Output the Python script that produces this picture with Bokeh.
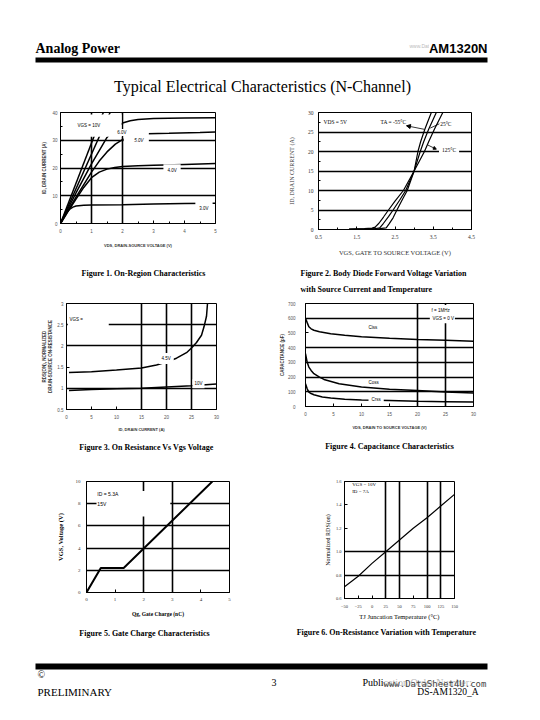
from bokeh.plotting import figure
from bokeh.layouts import column, row
from bokeh.models import (Range1d, Label, BoxAnnotation, FixedTicker, Arrow,
                          NormalHead, NumeralTickFormatter)
from bokeh.embed import file_html
from bokeh.resources import INLINE

SERIF = "Liberation Serif"
SANS = "Liberation Sans"

# ---------------- Figure 1 : On-Region Characteristics ----------------
f1_x_ticks = [0, 1, 2, 3, 4, 5]
f1_x_minor = [0.5, 1.5, 2.5, 3.5, 4.5]
f1_y_ticks = [0, 10, 20, 30, 40]
f1_y_minor = [5, 15, 25, 35]
f1_vds_10v = [0, 1.38]
f1_id_10v = [0, 40]
f1_vds_b = [0, 1.6]
f1_id_b = [0, 40]
f1_vds_6v = [0, 0.5, 1.0, 1.5, 1.75, 2.0, 2.25, 2.5, 3, 4, 5]
f1_id_6v = [0, 11, 21.5, 31, 34.2, 36.2, 37.0, 37.5, 37.8, 38.0, 38.1]
f1_vds_5v = [0, 0.5, 1.0, 1.25, 1.5, 1.77, 2.0, 2.4, 2.8, 3.5, 4.5, 5]
f1_id_5v = [0, 9.5, 18.5, 22.5, 25.8, 28.6, 30.2, 31.6, 32.3, 32.5, 32.8, 33.0]
f1_vds_4v = [0, 0.25, 0.5, 0.75, 1.0, 1.25, 1.5, 1.75, 2.0, 2.5, 3, 4, 5]
f1_id_4v = [0, 4.5, 8.8, 13.0, 16.5, 18.5, 19.6, 20.2, 20.5, 20.8, 21.0, 21.3, 21.6]
f1_vds_3v = [0, 0.1, 0.2, 0.3, 0.4, 0.5, 0.75, 1, 2, 3, 4, 5]
f1_id_3v = [0, 2.2, 4.0, 5.2, 5.9, 6.3, 6.6, 6.7, 6.8, 7.0, 7.2, 7.3]

# ---------------- Figure 2 : Transfer characteristics ----------------
f2_x_ticks = [0.5, 1.5, 2.5, 3.5, 4.5]
f2_x_minor = [1, 2, 3, 4]
f2_y_ticks = [0, 5, 10, 15, 20, 25, 30]
f2_y_minor = [2.5, 7.5, 12.5, 17.5, 22.5, 27.5]
f2_vgs_m55 = [1.3, 1.8, 2.1, 2.27, 2.35, 2.45, 2.55, 2.7, 2.82, 3.0, 3.1, 3.17, 3.28, 3.45]
f2_id_m55 = [0.05, 0.1, 0.2, 0.4, 1.5, 3.0, 5, 7.8, 10, 15, 20, 22.5, 25.7, 30]
f2_vgs_25 = [1.3, 1.8, 2.0, 2.1, 2.2, 2.33, 2.45, 2.62, 2.78, 3.0, 3.16, 3.25, 3.38, 3.58]
f2_id_25 = [0.05, 0.15, 0.25, 0.4, 1.6, 3.3, 5, 7.5, 10, 15, 20, 22.5, 25.7, 30]
f2_vgs_125 = [1.3, 1.7, 1.9, 1.98, 2.08, 2.2, 2.33, 2.5, 2.72, 3.0, 3.27, 3.38, 3.53, 3.75]
f2_id_125 = [0.1, 0.2, 0.35, 0.6, 1.6, 3.2, 5, 7.3, 10, 15, 20, 22.5, 25.7, 30]

# ---------------- Figure 3 : On resistance vs drain current ----------------
f3_x_ticks = [0, 5, 10, 15, 20, 25, 30]
f3_y_ticks = [0.5, 1, 1.5, 2, 2.5, 3]
f3_id_45v = [0.5, 5, 10, 15, 18, 20, 22, 24, 25, 26, 27, 27.5, 28, 28.2]
f3_r_45v = [1.37, 1.39, 1.43, 1.48, 1.55, 1.62, 1.71, 1.84, 1.95, 2.08, 2.25, 2.45, 2.7, 3.0]
f3_id_10v = [0.5, 5, 10, 15, 20, 25, 30]
f3_r_10v = [0.95, 0.97, 0.99, 1.0, 1.03, 1.06, 1.1]

# ---------------- Figure 4 : Capacitance ----------------
f4_x_ticks = [0, 5, 10, 15, 20, 25, 30]
f4_y_ticks = [0, 100, 200, 300, 400, 500, 600, 700]
f4_vds_ciss = [0, 0.3, 0.6, 1, 1.5, 2.5, 4.5, 7, 10, 15, 20, 25, 30]
f4_ciss = [600, 570, 542, 528, 518, 508, 495, 485, 474, 464, 456, 450, 443]
f4_vds_coss = [0, 0.3, 0.6, 1, 1.5, 2.5, 3.3, 6, 10, 15, 20, 25, 30]
f4_coss = [360, 300, 268, 245, 223, 200, 184, 155, 132, 118, 108, 98, 91]
f4_vds_crss = [0, 0.3, 0.6, 1, 1.5, 3, 4.5, 7, 10, 15, 20, 25, 30]
f4_crss = [155, 120, 98, 88, 80, 65, 57, 50, 45, 40, 35, 33, 30]

# ---------------- Figure 5 : Gate charge ----------------
f5_x_ticks = [0, 1, 2, 3, 4, 5]
f5_y_ticks = [0, 2, 4, 6, 8, 10]
f5_qg = [0, 0.5, 1.3, 4.4]
f5_vgs = [0, 2.2, 2.2, 10]

# ---------------- Figure 6 : On resistance vs temperature ----------------
f6_x_ticks = [-50, -25, 0, 25, 50, 75, 100, 125, 150]
f6_y_ticks = [0.6, 0.8, 1.0, 1.2, 1.4, 1.6]
f6_tj = [-50, -25, 0, 25, 50, 75, 100, 125, 150]
f6_rds = [0.70, 0.79, 0.90, 1.00, 1.10, 1.20, 1.29, 1.39, 1.49]


def make_chart(xr, yr, fw, fh, bl, br, bt, bb):
    p = figure(x_range=Range1d(*xr), y_range=Range1d(*yr), frame_width=fw, frame_height=fh,
               min_border_left=bl, min_border_right=br, min_border_top=bt, min_border_bottom=bb,
               toolbar_location=None, output_backend="svg")
    p.background_fill_color = "white"
    p.border_fill_color = "white"
    p.outline_line_color = "black"
    p.outline_line_width = 1
    p.outline_line_alpha = 1
    p.grid.grid_line_color = "black"
    p.grid.grid_line_width = 1.6
    for ax in p.axis:
        ax.axis_line_color = "black"
        ax.axis_line_width = 1
        ax.major_tick_in = 3
        ax.major_tick_out = 0
        ax.minor_tick_in = 2
        ax.minor_tick_out = 0
        ax.major_tick_line_color = "black"
        ax.minor_tick_line_color = "black"
    return p


def fmt_axis(ax, ticks, minor, tfont, tsize, tcolor, tstand,
             label, lfont, lsize, lstyle, lcolor, lstand):
    ax.ticker = FixedTicker(ticks=ticks, minor_ticks=minor)
    ax.major_label_text_font = tfont
    ax.major_label_text_font_size = tsize
    ax.major_label_text_color = tcolor
    ax.major_label_standoff = tstand
    ax.axis_label = label
    ax.axis_label_text_font = lfont
    ax.axis_label_text_font_size = lsize
    ax.axis_label_text_font_style = lstyle
    ax.axis_label_text_color = lcolor
    ax.axis_label_standoff = lstand


def lab(p, x, y, text, font, size, style="normal", bg=False, pad=2, align="left", color="black"):
    kw = dict(x=x, y=y, text=text, text_font=font, text_font_size=size,
              text_font_style=style, text_align=align, text_baseline="middle",
              text_color=color)
    if bg:
        kw.update(background_fill_color="white", background_fill_alpha=1.0, padding=pad)
    p.add_layout(Label(**kw))


def mask(p, l, r, b, t):
    p.add_layout(BoxAnnotation(left=l, right=r, bottom=b, top=t, fill_color="white",
                               fill_alpha=1.0, line_color=None))


def text_fig(w, h):
    p = figure(width=w, height=h, x_range=Range1d(0, w), y_range=Range1d(h, 0),
               toolbar_location=None, output_backend="svg", min_border=0,
               x_axis_type=None, y_axis_type=None)
    p.outline_line_color = None
    p.background_fill_color = "white"
    p.border_fill_color = "white"
    return p


def tlab(p, x, y, text, font, size, style="normal", align="left", color="black", **extra):
    p.add_layout(Label(x=x, y=y, text=text, text_font=font, text_font_size=size,
                       text_font_style=style, text_align=align,
                       text_baseline="alphabetic", text_color=color, **extra))


TICK_GRAY = "#555555"

# ================= Header =================
header = text_fig(524, 90)
tlab(header, 401, 37.5, "www.DataSheet4U.com", SANS, "5px", color="#bbbbbb")
tlab(header, 27, 39.5, "Analog Power", SERIF, "14px", "bold")
tlab(header, 479, 40, "AM1320N", SANS, "13px", "bold", align="right",
     background_fill_color="white", background_fill_alpha=1.0)
header.add_layout(BoxAnnotation(left=27, right=479, top=49, bottom=54, fill_color="black",
                                fill_alpha=1.0, line_color=None))
tlab(header, 254, 78, "Typical Electrical Characteristics (N-Channel)", SERIF, "16px",
     align="center")

# ================= Figure 1 =================
f1 = make_chart((0, 5), (0, 40), 155, 111, 52, 55, 14, 27)
fmt_axis(f1.xaxis[0], f1_x_ticks, f1_x_minor, SANS, "4.5px", TICK_GRAY, 5,
         "VDS, DRAIN-SOURCE VOLTAGE (V)", SANS, "4px", "bold", "#333333", 7)
fmt_axis(f1.yaxis[0], f1_y_ticks, f1_y_minor, SANS, "4.5px", TICK_GRAY, 3,
         "ID, DRAIN CURRENT (A)", SANS, "4.5px", "bold", "#333333", 2)
f1.xgrid[0].ticker = FixedTicker(ticks=[1, 2])
f1.ygrid[0].ticker = FixedTicker(ticks=[10, 20, 30])
for xs, ys in [(f1_vds_10v, f1_id_10v), (f1_vds_b, f1_id_b), (f1_vds_6v, f1_id_6v),
               (f1_vds_5v, f1_id_5v), (f1_vds_4v, f1_id_4v), (f1_vds_3v, f1_id_3v)]:
    f1.line(xs, ys, line_color="black", line_width=1.5)
mask(f1, 0.35, 1.97, 31.3, 39.3)
mask(f1, 2.04, 2.85, 29.2, 35.6)
lab(f1, 0.55, 35.3, "VGS = 10V", SANS, "4.5px")
lab(f1, 1.8, 32.8, "6.0V", SANS, "4.5px", bg=True, pad=1)
lab(f1, 2.38, 30.0, "5.0V", SANS, "4.5px", "italic")
lab(f1, 3.32, 19.0, "4.0V", SANS, "4.5px", bg=True, pad=4)
lab(f1, 4.35, 5.5, "3.0V", SANS, "4.5px", bg=True, pad=4)

# ================= Figure 2 =================
f2 = make_chart((0.5, 4.5), (0, 30), 153, 117, 48, 61, 14, 31)
fmt_axis(f2.xaxis[0], f2_x_ticks, f2_x_minor, SERIF, "5.5px", "#333333", 5,
         "VGS, GATE TO SOURCE VOLTAGE (V)", SERIF, "6.5px", "normal", "#333333", 7)
fmt_axis(f2.yaxis[0], f2_y_ticks, f2_y_minor, SERIF, "5.5px", "#333333", 5,
         "ID, DRAIN CURRENT (A)", SERIF, "6px", "normal", "#333333", 10)
f2.xgrid[0].visible = False
f2.ygrid[0].ticker = FixedTicker(ticks=[5, 10, 15, 20, 25])
for xs, ys in [(f2_vgs_m55, f2_id_m55), (f2_vgs_25, f2_id_25), (f2_vgs_125, f2_id_125)]:
    f2.line(xs, ys, line_color="black", line_width=1.2)
lab(f2, 0.63, 27.6, "VDS = 5V", SERIF, "5.5px")
lab(f2, 2.12, 27.6, "TA = -55°C", SERIF, "5.5px")
lab(f2, 3.68, 27.1, "25°C", SERIF, "5.5px")
lab(f2, 3.65, 20.3, "125°C", SERIF, "5.5px", bg=True, pad=3)
f2.add_layout(Arrow(end=NormalHead(size=4, fill_color="black", line_color="black"),
                    x_start=3.26, y_start=25.7, x_end=2.80, y_end=26.6,
                    line_color="black", line_width=0.8))
f2.add_layout(Arrow(end=None, x_start=3.42, y_start=26.0, x_end=3.66, y_end=27.1,
                    line_color="black", line_width=0.8))
f2.add_layout(Arrow(end=NormalHead(size=3, fill_color="black", line_color="black"),
                    x_start=3.35, y_start=21.7, x_end=3.58, y_end=20.6,
                    line_color="black", line_width=0.8))

cap_row1 = text_fig(524, 35)
tlab(cap_row1, 135, 12.5, "Figure 1. On-Region Characteristics", SERIF, "8px", "bold",
     align="center")
tlab(cap_row1, 292, 12.5, "Figure 2. Body Diode Forward Voltage Variation", SERIF, "8px", "bold")
tlab(cap_row1, 292, 28.5, "with Source Current and Temperature", SERIF, "8px", "bold")

# ================= Figure 3 =================
f3 = make_chart((0, 30), (0.5, 3), 150, 106, 58, 54, 7, 27)
fmt_axis(f3.xaxis[0], f3_x_ticks, [], SANS, "4.5px", TICK_GRAY, 5,
         "ID, DRAIN CURRENT (A)", SANS, "4px", "bold", "#333333", 5)
fmt_axis(f3.yaxis[0], f3_y_ticks, [], SANS, "4.5px", TICK_GRAY, 3,
         "RDS(ON), NORMALIZED\nDRAIN-SOURCE ON-RESISTANCE", SANS, "4.5px", "bold",
         "#333333", 1)
f3.yaxis[0].formatter = NumeralTickFormatter(format="0.[0]")
f3.xgrid[0].ticker = FixedTicker(ticks=[15, 20, 25])
f3.ygrid[0].ticker = FixedTicker(ticks=[1, 2, 2.5])
f3.line(f3_id_45v, f3_r_45v, line_color="black", line_width=1.5)
f3.line(f3_id_10v, f3_r_10v, line_color="black", line_width=1.5)
mask(f3, 0.25, 8.45, 2.44, 2.56)
lab(f3, 0.6, 2.63, "VGS =", SANS, "4.5px")
lab(f3, 18.4, 1.70, "4.5V", SANS, "4.5px", bg=True, pad=3)
lab(f3, 25.2, 1.11, "10V", SANS, "4.5px", bg=True, pad=2)

# ================= Figure 4 =================
f4 = make_chart((0, 30), (0, 700), 168, 103, 35, 59, 8, 29)
fmt_axis(f4.xaxis[0], f4_x_ticks, [], SANS, "4.5px", TICK_GRAY, 5,
         "VDS, DRAIN TO SOURCE VOLTAGE (V)", SANS, "4px", "bold", "#333333", 6)
fmt_axis(f4.yaxis[0], f4_y_ticks, [], SANS, "4.5px", TICK_GRAY, 10,
         "CAPACITANCE (pF)", SANS, "4.5px", "bold", "#333333", 0)
f4.xgrid[0].ticker = FixedTicker(ticks=[20, 25])
f4.ygrid[0].ticker = FixedTicker(ticks=[100, 200, 300, 400, 600])
f4.line(f4_vds_ciss, f4_ciss, line_color="black", line_width=1.5)
f4.line(f4_vds_coss, f4_coss, line_color="black", line_width=1.5)
f4.line(f4_vds_crss, f4_crss, line_color="black", line_width=1.5)
mask(f4, 22.2, 26.0, 565, 690)
lab(f4, 11.25, 537, "Ciss", SANS, "4.5px")
lab(f4, 11.25, 163, "Coss", SANS, "4.5px")
lab(f4, 11.25, 48, "Crss", SANS, "4.5px", bg=True, pad=3)
lab(f4, 22.5, 653, "f = 1MHz", SANS, "4.5px")
lab(f4, 22.5, 598, "VGS = 0 V", SANS, "4.5px", bg=True, pad=1)

cap_row2 = text_fig(524, 35)
tlab(cap_row2, 138, 12, "Figure 3. On Resistance Vs Vgs Voltage", SERIF, "8px", "bold",
     align="center")
tlab(cap_row2, 381, 11, "Figure 4. Capacitance Characteristics", SERIF, "8px", "bold",
     align="center")

# ================= Figure 5 =================
f5 = make_chart((0, 5), (0, 10), 143, 111, 78, 41, 11, 28)
fmt_axis(f5.xaxis[0], f5_x_ticks, [], SERIF, "5px", "#333333", 5,
         "Qg, Gate Charge (nC)", SERIF, "5.5px", "bold", "black", 7)
fmt_axis(f5.yaxis[0], f5_y_ticks, [], SERIF, "5px", "#333333", 6,
         "VGS, Voltage (V)", SERIF, "6.5px", "bold", "black", 9)
f5.xgrid[0].ticker = FixedTicker(ticks=[2, 3])
f5.ygrid[0].ticker = FixedTicker(ticks=[2, 4, 6, 8])
f5.line(f5_qg, f5_vgs, line_color="black", line_width=2)
mask(f5, 0.35, 2.93, 6.85, 9.15)
lab(f5, 0.38, 8.83, "ID = 5.3A", SANS, "5px")
lab(f5, 0.38, 8.0, "15V", SANS, "5px")

# ================= Figure 6 =================
f6 = make_chart((-50, 150), (0.6, 1.6), 110, 117, 74, 78, 11, 25)
fmt_axis(f6.xaxis[0], f6_x_ticks, [], SERIF, "4.5px", "#333333", 6,
         "TJ Juncation Temperature (°C)", SERIF, "6.5px", "normal", "black", 2)
fmt_axis(f6.yaxis[0], f6_y_ticks, [], SERIF, "4.5px", "#333333", 3,
         "Normalized RDS(on)", SERIF, "6px", "normal", "black", 2)
f6.yaxis[0].formatter = NumeralTickFormatter(format="0.0")
f6.xgrid[0].ticker = FixedTicker(ticks=[25, 50, 100, 125])
f6.ygrid[0].ticker = FixedTicker(ticks=[0.8, 1.0])
f6.line(f6_tj, f6_rds, line_color="black", line_width=1.2)
lab(f6, -36, 1.574, "VGS = 10V", SERIF, "5px")
lab(f6, -36, 1.514, "ID = 7A", SERIF, "5px")

cap_row3 = text_fig(524, 37)
tlab(cap_row3, 136, 10, "Figure 5. Gate Charge Characteristics", SERIF, "8px", "bold",
     align="center")
tlab(cap_row3, 378, 9, "Figure 6. On-Resistance Variation with Temperature", SERIF, "8px",
     "bold", align="center")

# ================= Footer =================
footer = text_fig(524, 52)
footer.add_layout(BoxAnnotation(left=27, right=479, top=3, bottom=9, fill_color="black",
                                fill_alpha=1.0, line_color=None))
tlab(footer, 29, 14, "©", SERIF, "10px")
tlab(footer, 29, 31, "PRELIMINARY", SERIF, "11px")
tlab(footer, 263, 22, "3", SERIF, "10px")
tlab(footer, 354, 22, "Publication Order Number:", SERIF, "10px")
tlab(footer, 375, 23, "www.DataSheet4U.com", "DejaVu Sans Mono", "9px", color="#444444",
     background_fill_color="white", background_fill_alpha=0.7)
tlab(footer, 470, 31.5, "DS-AM1320_A", SERIF, "9.5px", align="right")

page = column(
    header,
    row(f1, f2),
    cap_row1,
    row(f3, f4),
    cap_row2,
    row(f5, f6),
    cap_row3,
    footer,
    margin=(8, 8, 8, 8),
)

open("out.html", "w").write(file_html(page, INLINE))
